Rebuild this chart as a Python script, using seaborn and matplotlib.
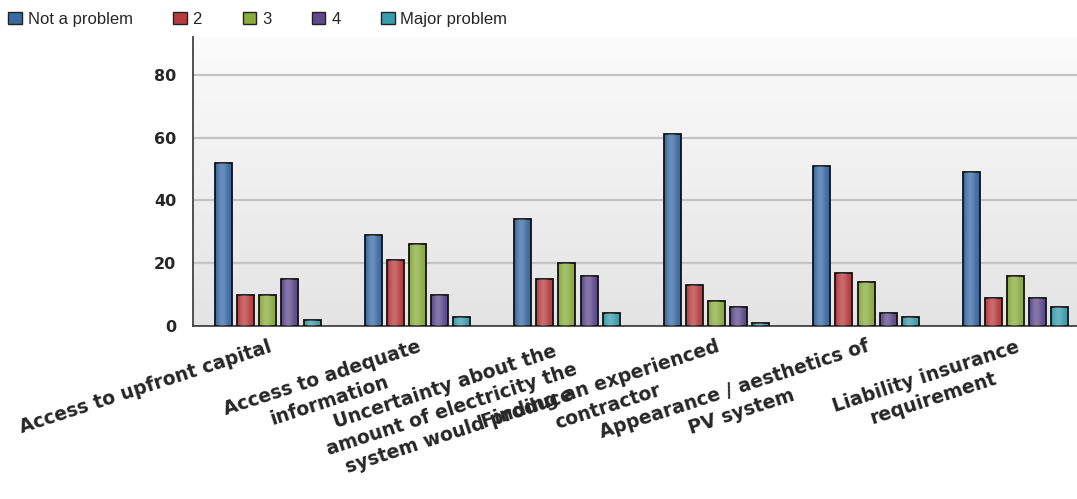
import numpy as np
import pandas as pd
import matplotlib
matplotlib.use("Agg")
import matplotlib.pyplot as plt
import seaborn as sns

categories = [
    "Access to upfront capital",
    "Access to adequate\ninformation",
    "Uncertainty about the\namount of electricity the\nsystem would produce",
    "Finding an experienced\ncontractor",
    "Appearance / aesthetics of\nPV system",
    "Liability insurance\nrequirement",
]
series_names = ["Not a problem", "2", "3", "4", "Major problem"]
not_a_problem = [52, 29, 34, 61, 51, 49]
rating_2 = [10, 21, 15, 13, 17, 9]
rating_3 = [10, 26, 20, 8, 14, 16]
rating_4 = [15, 10, 16, 6, 4, 9]
major_problem = [2, 3, 4, 1, 3, 6]
y_ticks = [0, 20, 40, 60, 80]

colors = ["#3b6aa3", "#b63c3f", "#8aab3e", "#5d4b8c", "#3a9dae"]

series_values = [not_a_problem, rating_2, rating_3, rating_4, major_problem]
rows = []
for name, vals in zip(series_names, series_values):
    for cat, v in zip(categories, vals):
        rows.append({"category": cat, "rating": name, "percent": v})
df = pd.DataFrame(rows)

sns.set_style("white")
plt.rcParams["font.family"] = ["Liberation Sans", "DejaVu Sans"]

fig = plt.figure(figsize=(10.77, 4.99), dpi=100)
ax = fig.add_axes([0.1792, 0.3467, 0.8208, 0.5792])

# soft vertical gradient behind the plot area
grad = np.linspace(0, 1, 256).reshape(-1, 1)
ax.imshow(grad, extent=[0, 1, 0, 1], transform=ax.transAxes, aspect="auto",
          cmap=matplotlib.colors.LinearSegmentedColormap.from_list(
              "bg", ["#e4e4e4", "#fbfbfb"]), origin="lower", zorder=0)

sns.barplot(data=df, x="category", y="percent", hue="rating",
            order=categories, hue_order=series_names, palette=colors,
            width=0.74, gap=0.23, edgecolor="#111111", linewidth=1.3,
            saturation=1, ax=ax, zorder=3)

# horizontal shading on each bar
shade = np.array([[0.0, 0.35, 0.45, 0.3, 0.05, 0.0]])
for p in ax.patches:
    x0, y0 = p.get_x(), p.get_y()
    w, h = p.get_width(), p.get_height()
    if h <= 0:
        continue
    im = ax.imshow(shade, extent=[x0, x0 + w, y0, y0 + h],
                   cmap=matplotlib.colors.LinearSegmentedColormap.from_list(
                       "hl", [(1, 1, 1, 0), (1, 1, 1, 0.6)]),
                   vmin=0, vmax=1, aspect="auto", zorder=3.5,
                   interpolation="bicubic")
    im.set_clip_path(p)

handles, labels = ax.get_legend_handles_labels()
ax.get_legend().remove()

ax.set_xlim(-0.5, 5.41)
ax.set_ylim(0, 92)
ax.set_yticks(y_ticks)
ax.set_yticklabels([str(t) for t in y_ticks], fontsize=11.5, fontweight="bold",
                   family="DejaVu Sans")
ax.yaxis.grid(True, color="#c4c4c4", linewidth=1.6, zorder=1)
ax.set_axisbelow(True)
ax.set_xlabel("")
ax.set_ylabel("")

ax.set_xticks(range(len(categories)))
ax.set_xticklabels(categories, rotation=18, ha="right", rotation_mode="anchor",
                   fontsize=13.5, fontweight="bold", family="DejaVu Sans",
                   multialignment="center", linespacing=1.3)
ax.tick_params(axis="x", direction="out", length=5, width=1, color="#555555", pad=3)
ax.tick_params(axis="y", direction="out", length=5, width=1, color="#555555", pad=7)

for side in ["top", "right"]:
    ax.spines[side].set_visible(False)
ax.spines["left"].set_color("#444444")
ax.spines["left"].set_linewidth(1.3)
ax.spines["bottom"].set_color("#444444")
ax.spines["bottom"].set_linewidth(1.3)

for h in handles:
    h.set_edgecolor("#222222")
    h.set_linewidth(1.0)
fig.legend(handles, labels, loc="upper left", bbox_to_anchor=(-0.003, 1.0),
           ncol=5, frameon=False, fontsize=12, handlelength=0.8, handleheight=0.8,
           handletextpad=0.35, columnspacing=2.45, borderaxespad=0.3)

fig.savefig("out.png", dpi=100, facecolor="white")
